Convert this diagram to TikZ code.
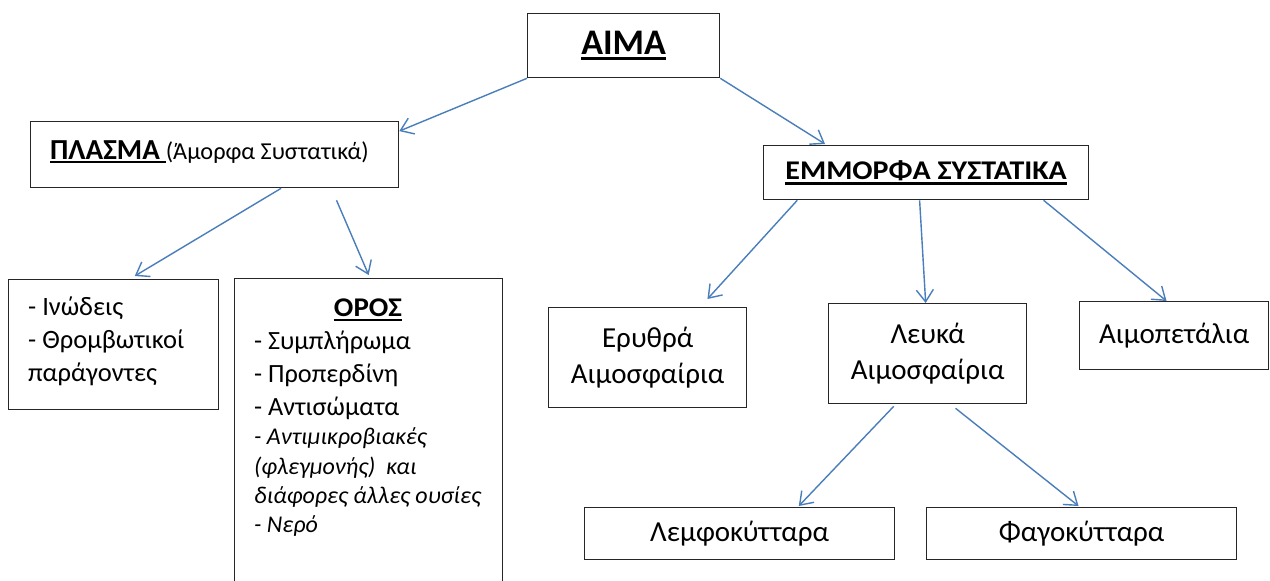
\documentclass[tikz,border=0pt]{standalone}
\usepackage{fontspec}
\setmainfont{Carlito}
\newfontfamily\widefont[FakeStretch=1.11]{Carlito}
\newfontfamily\semiwidefont[FakeStretch=1.07]{Carlito}
\usetikzlibrary{arrows.meta,calc}
\definecolor{arrowblue}{HTML}{4A7EBB}
\definecolor{boxline}{HTML}{262626}
\newcommand\myul[3]{{\setbox0\hbox{#3}\rlap{\rule[-#1]{\wd0}{#2}}\box0}}
\newcommand\fs[1]{\fontsize{#1}{1.22\dimexpr #1pt\relax}\selectfont}
\begin{document}
\begin{tikzpicture}[x=1pt,y=-1pt,
  box/.style={draw=boxline, line width=1.3pt, rectangle, inner sep=0pt, anchor=north west, align=center},
  txt/.style={inner sep=0pt, anchor=base west},
  conn/.style={draw=arrowblue, line width=1.4pt, -{Straight Barb[length=12pt,width=17pt,line width=1.4pt]}}]
\path[use as bounding box] (0,0) rectangle (1270,581);
\fill[white] (0,0) rectangle (1270,581);

% boxes
\node[box, minimum width=192pt, minimum height=64pt] (aima) at (527,13)
  {\fs{36}\bfseries\myul{6pt}{3pt}{ΑΙΜΑ}};
\node[box, minimum width=368pt, minimum height=66pt] (plasma) at (30,121) {};
\node[box, minimum width=325pt, minimum height=54pt] (emm) at (763,145)
  {\widefont\fs{27}\bfseries\myul{5pt}{2.5pt}{ΕΜΜΟΡΦΑ ΣΥΣΤΑΤΙΚΑ}};
\node[box, minimum width=210pt, minimum height=130pt] (inod) at (8,279) {};
\begin{scope}
\clip (0,0) rectangle (1270,581);
\node[box, minimum width=268pt, minimum height=340pt] (oros) at (234,278) {};
\end{scope}
\node[box, font=\fs{29}, minimum width=198pt, minimum height=100pt] (ery) at (548,307)
  {Ερυθρά\\Αιμοσφαίρια};
\node[box, font=\fs{29}, minimum width=198pt, minimum height=100pt] (lefka) at (828,303)
  {Λευκά\\Αιμοσφαίρια};
\node[box, font=\fs{29}, minimum width=189pt, minimum height=68pt] (aimop) at (1079,301)
  {Αιμοπετάλια};
\node[box, font=\fs{29}, minimum width=310pt, minimum height=52pt] (lemfo) at (584,507)
  {Λεμφοκύτταρα};
\node[box, font=\fs{29}, minimum width=310pt, minimum height=52pt] (fago) at (926,507)
  {Φαγοκύτταρα};

% texts inside left boxes
\node[txt] (plasmat) at (50,159)
  {\fs{29}\bfseries\myul{4pt}{2.5pt}{ΠΛΑΣΜΑ\hspace{6pt}}\mdseries\fs{24.3}(Άμορφα Συστατικά)};
\node[txt] (i1) at (28,315) {\fs{26.5}- Ινώδεις};
\node[txt] (i2) at (28,348) {\fs{26.5}- Θρομβωτικοί};
\node[txt] (i3) at (28,381) {\fs{26.5}παράγοντες};
\node[inner sep=0pt, anchor=base] (orost) at (368,316)
  {\semiwidefont\fs{27}\bfseries\myul{5pt}{2.5pt}{ΟΡΟΣ}};
\node[txt] (o1) at (254,349) {\fs{26.3}- Συμπλήρωμα};
\node[txt] (o2) at (254,382) {\fs{26.3}- Προπερδίνη};
\node[txt] (o3) at (254,415) {\fs{26.3}- Αντισώματα};
\node[txt] (o4) at (254,444) {\fs{24}\itshape - Αντιμικροβιακές};
\node[txt] (o5) at (254,474) {\fs{24}\itshape (φλεγμονής)\ \ και};
\node[txt] (o6) at (254,503) {\fs{24}\itshape διάφορες άλλες ουσίες};
\node[txt] (o7) at (254,532) {\fs{24}\itshape - Νερό};

% connectors
\draw[conn] (aima.south west) -- ($(plasma.north east)!0.15!(plasma.south east)$);
\draw[conn] (aima.south east) -- ($(emm.north west)!0.19!(emm.north east)+(0,-1)$);
\draw[conn] ($(plasma.south west)!0.68!(plasma.south east)$) -- ($(inod.north west)!0.6!(inod.north east)+(0,-3)$);
\draw[conn] ($(plasma.south west)!0.83!(plasma.south east)+(0,12)$) -- ($(oros.north)+(0,-3)$);
\draw[conn] ($(emm.south west)!0.105!(emm.south east)$) -- ($(ery.north west)!0.8!(ery.north east)+(0,-8)$);
\draw[conn] ($(emm.south west)!0.48!(emm.south east)$) -- ($(lefka.north west)!0.49!(lefka.north east)$);
\draw[conn] ($(emm.south west)!0.86!(emm.south east)$) -- ($(aimop.north west)!0.46!(aimop.north east)$);
\draw[conn] ($(lefka.south west)!0.33!(lefka.south east)+(0,2)$) -- ($(lemfo.north west)!0.69!(lemfo.north east)+(0,-1)$);
\draw[conn] ($(lefka.south west)!0.64!(lefka.south east)+(0,4)$) -- ($(fago.north west)!0.49!(fago.north east)+(0,-1)$);
\end{tikzpicture}
\end{document}
